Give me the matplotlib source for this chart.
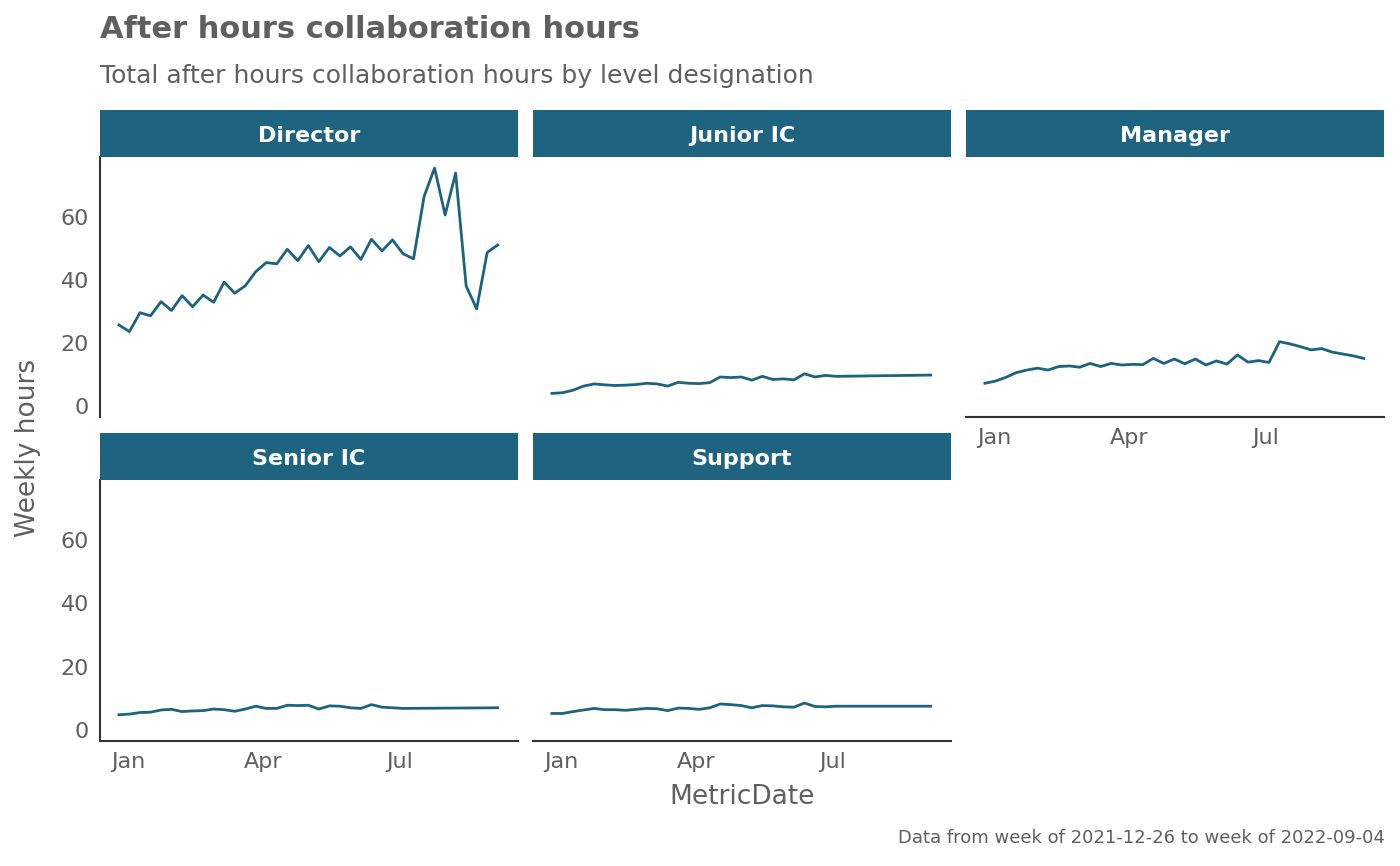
import numpy as np
import pandas as pd
import matplotlib
matplotlib.use('Agg')
import matplotlib.pyplot as plt
import matplotlib.dates as mdates

plt.rcParams['font.family'] = ['DejaVu Sans']

weeks = pd.date_range('2021-12-26', periods=37, freq='7D')

director = [25.7, 23.6, 29.6, 28.6, 33.1, 30.3, 35.0, 31.5, 35.2, 32.9, 39.3, 35.8,
            38.1, 42.6, 45.5, 45.1, 49.7, 46.1, 50.9, 45.8, 50.3, 47.6, 50.5, 46.5,
            52.9, 49.2, 52.7, 48.3, 46.7, 66.4, 75.5, 60.6, 73.9, 38.1, 30.8, 48.7, 51.1]
manager = [7.2, 7.9, 9.1, 10.6, 11.4, 12.0, 11.4, 12.5, 12.7, 12.3, 13.5, 12.5,
           13.5, 13.0, 13.2, 13.1, 15.1, 13.5, 14.9, 13.4, 14.9, 13.0, 14.3, 13.3,
           16.2, 13.9, 14.4, 13.8, 20.4, 19.7, 18.8, 17.8, 18.2, 17.1, 16.5, 15.9, 15.1]
# these three have no data between week 27 and the last week
junior = [4.0, 4.2, 5.0, 6.3, 7.0, 6.7, 6.5, 6.6, 6.8, 7.2, 7.0, 6.3, 7.5, 7.2,
          7.1, 7.4, 9.2, 9.0, 9.2, 8.2, 9.4, 8.4, 8.6, 8.3, 10.2, 9.2, 9.7, 9.4, 9.8]
senior = [4.8, 5.0, 5.5, 5.6, 6.3, 6.5, 5.8, 6.0, 6.1, 6.6, 6.4, 5.9, 6.6, 7.5,
          6.8, 6.8, 7.8, 7.7, 7.8, 6.6, 7.6, 7.5, 7.0, 6.8, 8.0, 7.2, 7.0, 6.8, 7.0]
support = [5.2, 5.2, 5.8, 6.3, 6.8, 6.4, 6.4, 6.2, 6.5, 6.8, 6.7, 6.1, 6.9, 6.8,
           6.5, 7.0, 8.2, 8.0, 7.7, 7.0, 7.7, 7.6, 7.3, 7.2, 8.5, 7.4, 7.3, 7.5, 7.5]
gap_weeks = weeks[list(range(28)) + [36]]

panels = [('Director', weeks, director), ('Junior IC', gap_weeks, junior),
          ('Manager', weeks, manager), ('Senior IC', gap_weeks, senior),
          ('Support', gap_weeks, support)]

W, H = 1400, 866
fig = plt.figure(figsize=(14, 8.66), dpi=100)
grey = '#5f5f5f'
blue = '#1d6380'
cols = [100, 533, 966]
pw = 418
rows = [(110, 157, 417), (433, 480, 741)]

x0 = mdates.date2num(pd.Timestamp('2021-12-26'))
xlim = (x0 - 12.6, x0 + 265.5)
ticks = [mdates.date2num(pd.Timestamp(d)) for d in ['2022-01-01', '2022-04-01', '2022-07-01']]

for i, (name, x, y) in enumerate(panels):
    r, c = divmod(i, 3)
    st, pt, pb = rows[r]
    left = cols[c]
    ax = fig.add_axes([left / W, 1 - pb / H, pw / W, (pb - pt) / H])
    ax.plot(x, y, color=blue, lw=2)
    ax.set_xlim(*xlim)
    ax.set_ylim(-3.5, 79)
    for s in ax.spines.values():
        s.set_visible(False)
    ax.set_xticks(ticks)
    ax.set_xticklabels(['Jan', 'Apr', 'Jul'])
    ax.set_yticks([0, 20, 40, 60])
    ax.tick_params(length=0, labelsize=16, labelcolor=grey, pad=8)
    if c == 0:
        ax.spines['left'].set_visible(True)
        ax.spines['left'].set_color('#333333')
        ax.spines['left'].set_linewidth(1.5)
    else:
        ax.set_yticklabels([])
    bottom = (r == 1) or (c == 2)
    if bottom:
        ax.spines['bottom'].set_visible(True)
        ax.spines['bottom'].set_color('#333333')
        ax.spines['bottom'].set_linewidth(1.5)
    else:
        ax.set_xticklabels([])
    sax = fig.add_axes([left / W, 1 - pt / H, pw / W, (pt - st) / H])
    sax.set_facecolor('#1e6480')
    sax.set_xticks([]); sax.set_yticks([])
    for s in sax.spines.values():
        s.set_visible(False)
    sax.text(0.5, 0.45, name, transform=sax.transAxes, ha='center', va='center',
             color='white', fontsize=16, fontweight='bold')

fig.text(100 / W, 1 - 30 / H, 'After hours collaboration hours', fontsize=22,
         fontweight='bold', color=grey, va='center')
fig.text(100 / W, 1 - 76 / H, 'Total after hours collaboration hours by level designation',
         fontsize=18, color=grey, va='center')
fig.text(28 / W, 1 - 448 / H, 'Weekly hours', rotation=90, fontsize=19, color=grey,
         ha='center', va='center')
fig.text(742 / W, 1 - 797 / H, 'MetricDate', fontsize=19, color=grey, ha='center', va='center')
fig.text(1385 / W, 1 - 838 / H, 'Data from week of 2021-12-26 to week of 2022-09-04',
         fontsize=13, color=grey, ha='right', va='center')

fig.savefig('out.png', dpi=100, facecolor='white')
